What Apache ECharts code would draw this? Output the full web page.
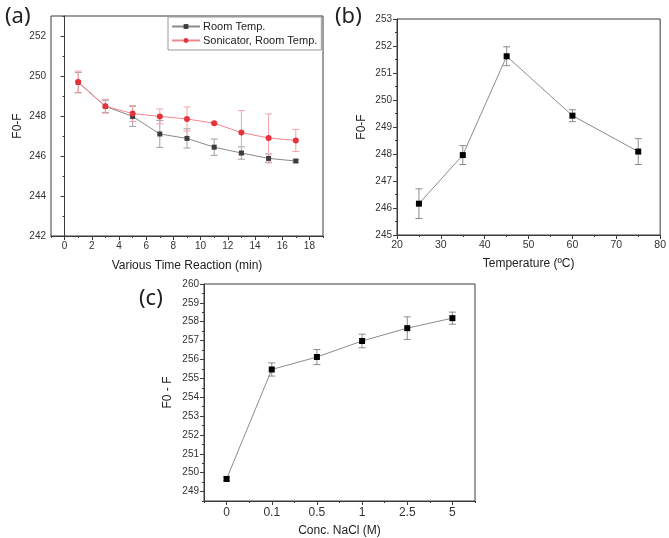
<!DOCTYPE html>
<html>
<head>
<meta charset="utf-8">
<script src="https://cdn.jsdelivr.net/npm/echarts@6/dist/echarts.min.js"></script>
<style>
  html, body { margin: 0; padding: 0; background: #fff; }
  #chart { width: 669px; height: 538px; }
</style>
</head>
<body>
<div id="chart"></div>
<script>
/********************** (a) 反应时间 **********************/
var timeMin = [1, 3, 5, 7, 9, 11, 13, 15, 17];
var roomTemp = [249.68, 248.48, 247.98, 247.10, 246.88, 246.44, 246.15, 245.88, 245.75];
var roomTempErr = [0.50, 0.30, 0.50, 0.67, 0.48, 0.41, 0.31, 0.22, 0.06];
var sonic = [249.70, 248.49, 248.12, 247.98, 247.85, 247.64, 247.17, 246.90, 246.78];
var sonicErr = [0.55, 0.35, 0.40, 0.37, 0.60, 0.05, 1.10, 1.20, 0.55];
var aXTicks = [0, 2, 4, 6, 8, 10, 12, 14, 16, 18];
var aXMinor = [-1, 1, 3, 5, 7, 9, 11, 13, 15, 17, 19];
var aYTicks = [242, 244, 246, 248, 250, 252];
var aYMinor = [243, 245, 247, 249, 251, 253];

/********************** (b) 温度 **********************/
var tempC = [25, 35, 45, 60, 75];
var tempVal = [246.16, 247.96, 251.62, 249.42, 248.09];
var tempErr = [0.55, 0.35, 0.35, 0.22, 0.48];
var bXTicks = [20, 30, 40, 50, 60, 70, 80];
var bXMinor = [25, 35, 45, 55, 65, 75];
var bYTicks = [245, 246, 247, 248, 249, 250, 251, 252, 253];
var bYMinor = [245.5, 246.5, 247.5, 248.5, 249.5, 250.5, 251.5, 252.5];

/********************** (c) NaCl 浓度 **********************/
var naclLabels = ['0', '0.1', '0.5', '1', '2.5', '5'];
var naclVal = [249.67, 255.47, 256.13, 256.98, 257.66, 258.19];
var naclErr = [0.10, 0.35, 0.40, 0.36, 0.60, 0.32];
var cYTicks = [249, 250, 251, 252, 253, 254, 255, 256, 257, 258, 259, 260];
var cYMinor = [248.5, 249.5, 250.5, 251.5, 252.5, 253.5, 254.5, 255.5, 256.5, 257.5, 258.5, 259.5];

var font = 'Liberation Sans, Arial, sans-serif';
var axisColor = '#3a3a3a';

// 点数据 [x, y]
function pairs(xs, ys) {
  var res = [];
  for (var i = 0; i < xs.length; i++) res.push([xs[i], ys[i]]);
  return res;
}
// 误差棒数据 [x, low, high]
function errData(xs, ys, es) {
  var res = [];
  for (var i = 0; i < xs.length; i++) res.push([xs[i], ys[i] - es[i], ys[i] + es[i]]);
  return res;
}
function errRender(color) {
  return function (params, api) {
    var x = api.value(0);
    var lo = api.coord([x, api.value(1)]);
    var hi = api.coord([x, api.value(2)]);
    var w = 3.5;
    var st = { stroke: color, lineWidth: 1 };
    return {
      type: 'group',
      children: [
        { type: 'line', shape: { x1: hi[0], y1: hi[1], x2: lo[0], y2: lo[1] }, style: st },
        { type: 'line', shape: { x1: hi[0] - w, y1: hi[1], x2: hi[0] + w, y2: hi[1] }, style: st },
        { type: 'line', shape: { x1: lo[0] - w, y1: lo[1], x2: lo[0] + w, y2: lo[1] }, style: st }
      ]
    };
  };
}

// 主坐标轴
function mainAxis(grid, pos, min, max, ticks, name, gap, fs) {
  return {
    type: 'value', gridIndex: grid, position: pos, min: min, max: max,
    name: name, nameLocation: 'middle', nameGap: gap,
    nameTextStyle: { fontFamily: font, fontSize: 12, color: '#222' },
    axisLine: { show: true, lineStyle: { color: axisColor, width: 1 } },
    axisTick: { show: true, length: 4, customValues: ticks, lineStyle: { color: axisColor } },
    axisLabel: { customValues: ticks, fontFamily: font, fontSize: fs || 10, color: '#333', margin: 5 },
    splitLine: { show: false }
  };
}
// 次刻度
function minorAxis(grid, pos, min, max, ticks) {
  return {
    type: 'value', gridIndex: grid, position: pos, min: min, max: max,
    axisLine: { show: false },
    axisTick: { show: true, length: 2, customValues: ticks, lineStyle: { color: axisColor } },
    axisLabel: { show: false },
    splitLine: { show: false }
  };
}

var xA = mainAxis(0, 'bottom', -1, 19, aXTicks, 'Various Time Reaction (min)', 24);
var yA = mainAxis(0, 'left', 242, 253, aYTicks, 'F0-F', 27);
var xB = mainAxis(1, 'bottom', 20, 80, bXTicks, 'Temperature (ºC)', 23, 10.5);
var yB = mainAxis(1, 'left', 245, 253, bYTicks, 'F0-F', 29);
var yC = mainAxis(2, 'left', 248.5, 260, cYTicks, 'F0 - F', 30);

var xC = {
  type: 'category', gridIndex: 2, position: 'bottom', data: naclLabels, boundaryGap: true,
  name: 'Conc. NaCl (M)', nameLocation: 'middle', nameGap: 24,
  nameTextStyle: { fontFamily: font, fontSize: 12, color: '#222' },
  axisLine: { show: true, lineStyle: { color: axisColor, width: 1 } },
  axisTick: { show: true, length: 4, alignWithLabel: true, lineStyle: { color: axisColor } },
  axisLabel: { fontFamily: font, fontSize: 12, color: '#333', margin: 6 },
  splitLine: { show: false }
};
var xCMinor = {
  type: 'category', gridIndex: 2, position: 'bottom', data: naclLabels, boundaryGap: true,
  axisLine: { show: false },
  axisTick: { show: true, length: 2, lineStyle: { color: axisColor } },
  axisLabel: { show: false },
  splitLine: { show: false }
};

var gridStyle = { show: true, borderColor: axisColor, borderWidth: 1, backgroundColor: 'transparent' };

var option = {
  animation: false,
  backgroundColor: '#fff',
  title: [
    { text: '(a)', left: 0, top: 1, textStyle: { fontFamily: 'Noto Sans', fontSize: 22, fontWeight: 'normal', color: '#222' } },
    { text: '(b)', left: 330, top: 1, textStyle: { fontFamily: 'Noto Sans', fontSize: 22, fontWeight: 'normal', color: '#222' } },
    { text: '(c)', left: 134, top: 283, textStyle: { fontFamily: 'Noto Sans', fontSize: 22, fontWeight: 'normal', color: '#222' } }
  ],
  legend: {
    left: 168, top: 17, orient: 'vertical',
    data: ['Room Temp.', 'Sonicator, Room Temp.'],
    itemWidth: 28, itemHeight: 6, itemGap: 3,
    padding: [4, 4, 4, 3],
    borderColor: '#999', borderWidth: 1,
    textStyle: { fontFamily: font, fontSize: 11, color: '#222', padding: [0, 0, 0, -2] }
  },
  grid: [
    Object.assign({ left: 51, top: 16, width: 272, height: 220 }, gridStyle),
    Object.assign({ left: 397, top: 19, width: 266, height: 216 }, gridStyle),
    Object.assign({ left: 204, top: 284, width: 271, height: 218 }, gridStyle)
  ],
  xAxis: [
    xA, minorAxis(0, 'bottom', -1, 19, aXMinor),
    xB, minorAxis(1, 'bottom', 20, 80, bXMinor),
    xC, xCMinor
  ],
  yAxis: [
    yA, minorAxis(0, 'left', 242, 253, aYMinor),
    yB, minorAxis(1, 'left', 245, 253, bYMinor),
    yC, minorAxis(2, 'left', 248.5, 260, cYMinor)
  ],
  series: [
    {
      type: 'custom', xAxisIndex: 0, yAxisIndex: 0, z: 1,
      renderItem: errRender('#a0a0a0'), data: errData(timeMin, roomTemp, roomTempErr)
    },
    {
      type: 'custom', xAxisIndex: 0, yAxisIndex: 0, z: 1,
      renderItem: errRender('#f3a2a7'), data: errData(timeMin, sonic, sonicErr)
    },
    {
      name: 'Room Temp.', type: 'line', xAxisIndex: 0, yAxisIndex: 0, z: 3,
      symbol: 'rect', symbolSize: 5, showAllSymbol: true,
      itemStyle: { color: '#3c3c3c' },
      lineStyle: { color: '#8a8a8a', width: 1 },
      data: pairs(timeMin, roomTemp)
    },
    {
      name: 'Sonicator, Room Temp.', type: 'line', xAxisIndex: 0, yAxisIndex: 0, z: 4,
      symbol: 'circle', symbolSize: 6, showAllSymbol: true,
      itemStyle: { color: '#e5333e' },
      lineStyle: { color: '#f0878e', width: 1 },
      data: pairs(timeMin, sonic)
    },
    {
      type: 'custom', xAxisIndex: 2, yAxisIndex: 2, z: 1,
      renderItem: errRender('#8c8c8c'), data: errData(tempC, tempVal, tempErr)
    },
    {
      type: 'line', xAxisIndex: 2, yAxisIndex: 2, z: 3,
      symbol: 'rect', symbolSize: 6, showAllSymbol: true,
      itemStyle: { color: '#000' },
      lineStyle: { color: '#8c8c8c', width: 1 },
      data: pairs(tempC, tempVal)
    },
    {
      type: 'custom', xAxisIndex: 4, yAxisIndex: 4, z: 1,
      renderItem: errRender('#8c8c8c'),
      data: errData([0, 1, 2, 3, 4, 5], naclVal, naclErr)
    },
    {
      type: 'line', xAxisIndex: 4, yAxisIndex: 4, z: 3,
      symbol: 'rect', symbolSize: 6, showAllSymbol: true,
      itemStyle: { color: '#000' },
      lineStyle: { color: '#8c8c8c', width: 1 },
      data: naclVal
    }
  ]
};

var chart = echarts.init(document.getElementById('chart'));
chart.setOption(option);
</script>
</body>
</html>
